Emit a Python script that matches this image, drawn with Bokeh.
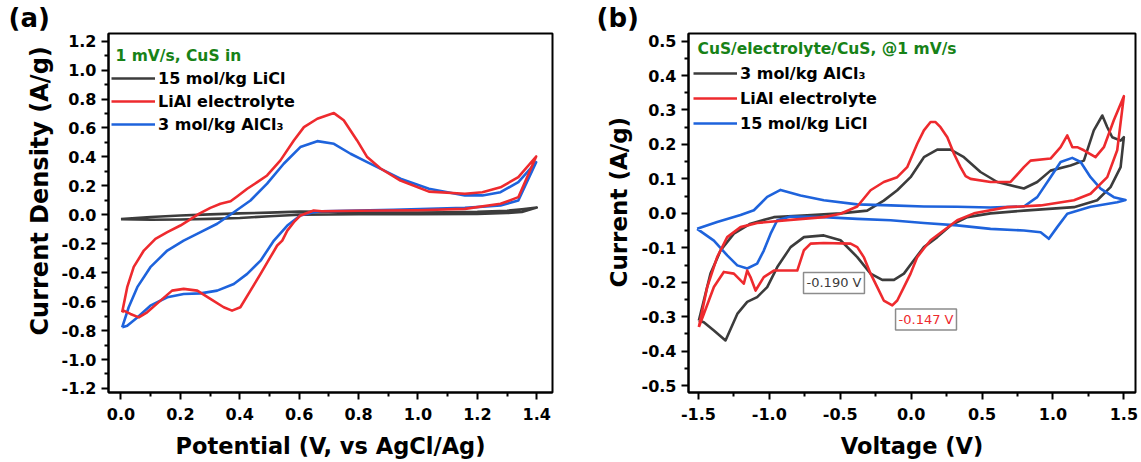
from bokeh.plotting import figure
from bokeh.layouts import row
from bokeh.models import Legend, LegendItem, Label, FixedTicker, Title
from bokeh.embed import file_html
from bokeh.resources import INLINE

FONT = "DejaVu Sans"

# ---------------- Panel (a) data: CuS in three electrolytes, 1 mV/s ----------------
a_licl_v = [0.0, 0.1, 0.2, 0.3, 0.4, 0.5, 0.6, 0.7, 0.8, 0.9, 1.0, 1.1, 1.2, 1.3, 1.35, 1.4,
            1.35, 1.3, 1.2, 1.0, 0.8, 0.6, 0.5, 0.4, 0.3, 0.2, 0.1, 0.0]
a_licl_i = [-0.030, -0.015, -0.005, 0.003, 0.010, 0.015, 0.022, 0.020, 0.015, 0.015, 0.015, 0.017, 0.020, 0.028, 0.038, 0.050,
            0.020, 0.012, 0.006, 0.005, 0.004, 0.000, -0.010, -0.022, -0.028, -0.032, -0.034, -0.030]

a_lial_v = [0.004, 0.021, 0.043, 0.077, 0.116, 0.156, 0.200, 0.228, 0.262, 0.301, 0.335, 0.369, 0.391, 0.425,
            0.459, 0.492, 0.537, 0.582, 0.616, 0.661, 0.690, 0.717, 0.750, 0.795, 0.829, 0.874, 0.941, 1.037,
            1.158, 1.217, 1.278, 1.338, 1.398,
            1.338, 1.278, 1.158, 1.000, 0.800, 0.676, 0.649, 0.604, 0.582, 0.560, 0.543, 0.526, 0.503, 0.470,
            0.436, 0.402, 0.374, 0.346, 0.301, 0.257, 0.211, 0.172, 0.133, 0.088, 0.060, 0.032, 0.009, 0.004]
a_lial_i = [-0.674, -0.500, -0.360, -0.247, -0.166, -0.120, -0.074, -0.039, 0.007, 0.048, 0.076, 0.094, 0.127, 0.180,
            0.226, 0.272, 0.376, 0.514, 0.606, 0.664, 0.685, 0.703, 0.653, 0.514, 0.399, 0.320, 0.237, 0.160,
            0.145, 0.156, 0.190, 0.260, 0.403,
            0.122, 0.076, 0.041, 0.032, 0.028, 0.025, 0.030, -0.005, -0.051, -0.109, -0.178, -0.212, -0.293, -0.408,
            -0.524, -0.639, -0.662, -0.639, -0.581, -0.524, -0.512, -0.524, -0.593, -0.674, -0.709, -0.685, -0.662, -0.674]

a_alcl_v = [0.004, 0.026, 0.055, 0.099, 0.156, 0.211, 0.268, 0.324, 0.380, 0.436, 0.492, 0.548, 0.604, 0.661,
            0.717, 0.773, 0.829, 0.885, 0.941, 1.037, 1.158, 1.217, 1.278, 1.338, 1.398,
            1.338, 1.278, 1.158, 0.917, 0.676, 0.649, 0.604, 0.560, 0.515, 0.470, 0.425, 0.380, 0.324, 0.268,
            0.211, 0.156, 0.099, 0.055, 0.021, 0.004]
a_alcl_i = [-0.778, -0.639, -0.500, -0.362, -0.247, -0.178, -0.120, -0.062, 0.018, 0.099, 0.215, 0.353, 0.468, 0.509,
            0.491, 0.422, 0.364, 0.307, 0.249, 0.180, 0.134, 0.134, 0.156, 0.226, 0.364,
            0.099, 0.064, 0.048, 0.034, 0.025, 0.018, -0.005, -0.074, -0.178, -0.317, -0.408, -0.478, -0.524, -0.543,
            -0.547, -0.570, -0.628, -0.709, -0.766, -0.778]

# ---------------- Panel (b) data: CuS/electrolyte/CuS, 1 mV/s ----------------
b_alcl_v = [-1.497, -1.415, -1.344, -1.250, -1.133, -0.968, -0.733, -0.498, -0.310, -0.193, -0.098, -0.004, 0.090,
            0.184, 0.278, 0.372, 0.489, 0.607, 0.795, 0.889, 0.983, 1.124, 1.218, 1.288, 1.348, 1.383, 1.418,
            1.477, 1.500,
            1.477, 1.406, 1.312, 1.148, 0.795, 0.560, 0.396, 0.278, 0.184, 0.090, 0.019, -0.051, -0.121, -0.204,
            -0.286, -0.380, -0.498, -0.616, -0.756, -0.850, -0.944, -1.015, -1.086, -1.156, -1.226, -1.309,
            -1.391, -1.462, -1.497]
b_alcl_i = [-0.311, -0.175, -0.108, -0.059, -0.030, -0.011, -0.006, 0.000, 0.008, 0.037, 0.067, 0.105, 0.163,
            0.185, 0.185, 0.163, 0.120, 0.091, 0.072, 0.091, 0.124, 0.139, 0.153, 0.241, 0.284, 0.250, 0.221,
            0.211, 0.221,
            0.134, 0.076, 0.038, 0.018, 0.008, 0.000, -0.011, -0.035, -0.069, -0.098, -0.136, -0.175, -0.193, -0.193,
            -0.175, -0.127, -0.078, -0.064, -0.069, -0.098, -0.156, -0.214, -0.243, -0.257, -0.292, -0.369,
            -0.340, -0.316, -0.311]

b_lial_v = [-1.497, -1.438, -1.368, -1.297, -1.203, -1.086, -0.850, -0.616, -0.498, -0.380, -0.286, -0.193, -0.098,
            -0.028, 0.043, 0.090, 0.137, 0.172, 0.207, 0.255, 0.302, 0.348, 0.384, 0.419, 0.560, 0.701, 0.795,
            0.842, 0.983, 1.054, 1.101, 1.137, 1.171, 1.218, 1.300, 1.359, 1.429, 1.500,
            1.453, 1.383, 1.265, 1.148, 0.913, 0.678, 0.443, 0.325, 0.231, 0.137, 0.090, 0.043, -0.004, -0.051,
            -0.098, -0.133, -0.193, -0.239, -0.286, -0.334, -0.380, -0.427, -0.616, -0.709, -0.756, -0.803,
            -0.874, -0.968, -1.039, -1.097, -1.133, -1.156, -1.180, -1.250, -1.321, -1.391, -1.462, -1.497]
b_lial_i = [-0.330, -0.214, -0.127, -0.069, -0.040, -0.028, -0.019, -0.011, -0.001, 0.020, 0.067, 0.091, 0.105,
            0.134, 0.202, 0.241, 0.265, 0.265, 0.250, 0.221, 0.173, 0.134, 0.108, 0.100, 0.091, 0.091, 0.134,
            0.153, 0.159, 0.192, 0.226, 0.192, 0.192, 0.183, 0.163, 0.192, 0.270, 0.340,
            0.183, 0.105, 0.057, 0.038, 0.023, 0.018, 0.000, -0.020, -0.049, -0.078, -0.102, -0.127, -0.175, -0.214,
            -0.253, -0.267, -0.253, -0.214, -0.175, -0.127, -0.098, -0.088, -0.086, -0.088, -0.107, -0.166,
            -0.166, -0.166, -0.185, -0.224, -0.185, -0.166, -0.204, -0.175, -0.170, -0.214, -0.292, -0.330]

b_licl_v = [-1.509, -1.368, -1.203, -1.109, -1.015, -0.921, -0.780, -0.616, -0.380, -0.145, 0.090, 0.325, 0.560,
            0.795, 0.889, 0.983, 1.054, 1.136, 1.195, 1.265, 1.336, 1.429, 1.512,
            1.453, 1.265, 1.101, 1.030, 0.971, 0.913, 0.795, 0.560, 0.325, 0.090, -0.145, -0.380, -0.616, -0.850,
            -0.944, -0.991, -1.039, -1.086, -1.156, -1.226, -1.297, -1.391, -1.509]
b_licl_i = [-0.045, -0.025, -0.005, 0.009, 0.048, 0.068, 0.052, 0.038, 0.026, 0.023, 0.020, 0.019, 0.017,
            0.020, 0.047, 0.105, 0.149, 0.161, 0.149, 0.105, 0.072, 0.047, 0.039,
            0.032, 0.019, -0.001, -0.040, -0.074, -0.055, -0.050, -0.045, -0.035, -0.028, -0.020, -0.016, -0.011,
            -0.009, -0.020, -0.059, -0.108, -0.146, -0.160, -0.151, -0.122, -0.079, -0.045]

# ticks
a_xticks = [0.0, 0.2, 0.4, 0.6, 0.8, 1.0, 1.2, 1.4]
a_xlabels = ["0.0", "0.2", "0.4", "0.6", "0.8", "1.0", "1.2", "1.4"]
a_yticks = [-1.2, -1.0, -0.8, -0.6, -0.4, -0.2, 0.0, 0.2, 0.4, 0.6, 0.8, 1.0, 1.2]
a_ylabels = ["-1.2", "-1.0", "-0.8", "-0.6", "-0.4", "-0.2", "0.0", "0.2", "0.4", "0.6", "0.8", "1.0", "1.2"]
b_xticks = [-1.5, -1.0, -0.5, 0.0, 0.5, 1.0, 1.5]
b_xlabels = ["-1.5", "-1.0", "-0.5", "0.0", "0.5", "1.0", "1.5"]
b_yticks = [-0.5, -0.4, -0.3, -0.2, -0.1, 0.0, 0.1, 0.2, 0.3, 0.4, 0.5]
b_ylabels = ["-0.5", "-0.4", "-0.3", "-0.2", "-0.1", "0.0", "0.1", "0.2", "0.3", "0.4", "0.5"]

GRAY = "#3c3c3c"
RED = "#ee2a2e"
BLUE = "#1e63dc"
GREEN = "#178217"
LW = 2.6


def mids(t):
    return [(t[k] + t[k + 1]) / 2 for k in range(len(t) - 1)]


def style(p, xt, xl, yt, yl, xlab, ylab, ylab_size, ylab_offset, ylab_standoff):
    p.xgrid.visible = False
    p.ygrid.visible = False
    p.outline_line_color = "black"
    p.outline_line_width = 2
    p.outline_line_alpha = 1
    p.background_fill_color = "white"
    p.border_fill_color = "white"
    for ax, t, lab in ((p.xaxis[0], xt, xl), (p.yaxis[0], yt, yl)):
        ax.ticker = FixedTicker(ticks=t, minor_ticks=mids(t))
        ax.major_label_overrides = dict(zip(t, lab))
        ax.axis_line_width = 2
        ax.axis_line_color = "black"
        ax.major_tick_line_width = 2
        ax.minor_tick_line_width = 2
        ax.major_tick_out = 7
        ax.major_tick_in = 0
        ax.minor_tick_out = 4
        ax.minor_tick_in = 0
        ax.major_label_text_font = FONT
        ax.major_label_text_font_size = "16px"
        ax.major_label_text_font_style = "bold"
        ax.major_label_text_color = "black"
        ax.axis_label_text_font = FONT
        ax.axis_label_text_font_style = "bold"
        ax.axis_label_text_color = "black"
    p.xaxis[0].axis_label = xlab
    p.xaxis[0].axis_label_text_font_size = "22.5px"
    p.xaxis[0].major_label_standoff = 8
    p.xaxis[0].axis_label_standoff = 10
    p.yaxis[0].major_label_standoff = 5
    # y-axis title placed in the left side panel, outside the tick labels
    yt_title = Title(text=ylab, text_font=FONT, text_font_size=ylab_size, text_font_style="bold",
                     text_color="black", align="left", vertical_align="middle",
                     offset=ylab_offset, standoff=ylab_standoff)
    p.add_layout(yt_title, "left")


def panel(width, xr, yr, border_left, border_right, tag, tag_offset):
    p = figure(width=width, height=462, x_range=xr, y_range=yr, title=tag,
               output_backend="svg", toolbar_location=None,
               min_border_left=border_left, min_border_right=border_right,
               min_border_top=33, min_border_bottom=70)
    p.title.text_font = FONT
    p.title.text_font_size = "26px"
    p.title.text_font_style = "bold"
    p.title.text_color = "black"
    p.title.align = "left"
    p.title.vertical_align = "middle"
    p.title.offset = tag_offset
    p.title.standoff = 0
    return p


# ---------------- Panel (a) ----------------
pa = panel(588, (-0.042, 1.453), (-1.228, 1.253), 108, 36, "(a)", -100)
style(pa, a_xticks, a_xlabels, a_yticks, a_ylabels, "Potential (V, vs AgCl/Ag)", "Current Density (A/g)",
      "24px", 57, 8)
ra1 = pa.line(a_licl_v, a_licl_i, line_color=GRAY, line_width=LW, line_join="round")
ra3 = pa.line(a_alcl_v, a_alcl_i, line_color=BLUE, line_width=LW, line_join="round")
ra2 = pa.line(a_lial_v, a_lial_i, line_color=RED, line_width=LW, line_join="round")
leg_a = Legend(items=[LegendItem(label="15 mol/kg LiCl", renderers=[ra1]),
                      LegendItem(label="LiAl electrolyte", renderers=[ra2]),
                      LegendItem(label="3 mol/kg AlCl\u2083", renderers=[ra3])],
               location=(3, 258), margin=0, padding=2, spacing=3, glyph_width=44, glyph_height=20,
               label_standoff=3, label_text_font=FONT, label_text_font_size="16px",
               label_text_font_style="bold", label_text_color="black",
               border_line_color=None, background_fill_alpha=0)
pa.add_layout(leg_a)
pa.add_layout(Label(x=7, y=337, x_units="screen", y_units="screen", text="1 mV/s, CuS in",
                    text_font=FONT, text_font_size="15.5px", text_font_style="bold", text_color=GREEN,
                    text_baseline="alphabetic", text_align="left"))

# ---------------- Panel (b) ----------------
pb = panel(553, (-1.570, 1.582), (-0.520, 0.522), 100, 6, "(b)", -92)
style(pb, b_xticks, b_xlabels, b_yticks, b_ylabels, "Voltage (V)", "Current (A/g)", "23px", 105, 11)
rb1 = pb.line(b_alcl_v, b_alcl_i, line_color=GRAY, line_width=LW, line_join="round")
rb3 = pb.line(b_licl_v, b_licl_i, line_color=BLUE, line_width=LW, line_join="round")
rb2 = pb.line(b_lial_v, b_lial_i, line_color=RED, line_width=LW, line_join="round")
leg_b = Legend(items=[LegendItem(label="3 mol/kg AlCl\u2083", renderers=[rb1]),
                      LegendItem(label="LiAl electrolyte", renderers=[rb2]),
                      LegendItem(label="15 mol/kg LiCl", renderers=[rb3])],
               location=(5, 259), margin=0, padding=2, spacing=5, glyph_width=44, glyph_height=20,
               label_standoff=3, label_text_font=FONT, label_text_font_size="16px",
               label_text_font_style="bold", label_text_color="black",
               border_line_color=None, background_fill_alpha=0)
pb.add_layout(leg_b)
pb.add_layout(Label(x=9, y=344, x_units="screen", y_units="screen", text="CuS/electrolyte/CuS, @1 mV/s",
                    text_font=FONT, text_font_size="15.5px", text_font_style="bold", text_color=GREEN,
                    text_baseline="alphabetic", text_align="left"))

# peak annotations
peak_text = ["-0.190 V", "-0.147 V"]
peak_color = [GRAY, RED]
peak_box_v = [-0.759, -0.110]
peak_box_i = [-0.202, -0.308]
for t, c, xv, yv in zip(peak_text, peak_color, peak_box_v, peak_box_i):
    pb.add_layout(Label(x=xv, y=yv, text=t, text_font=FONT, text_font_size="13px", text_color=c,
                        text_align="left", text_baseline="middle", padding=3,
                        border_line_color="#8c8c8c", border_line_width=1.5,
                        background_fill_color="white", background_fill_alpha=1))

layout = row(pa, pb)
open("out.html", "w").write(file_html(layout, INLINE))
